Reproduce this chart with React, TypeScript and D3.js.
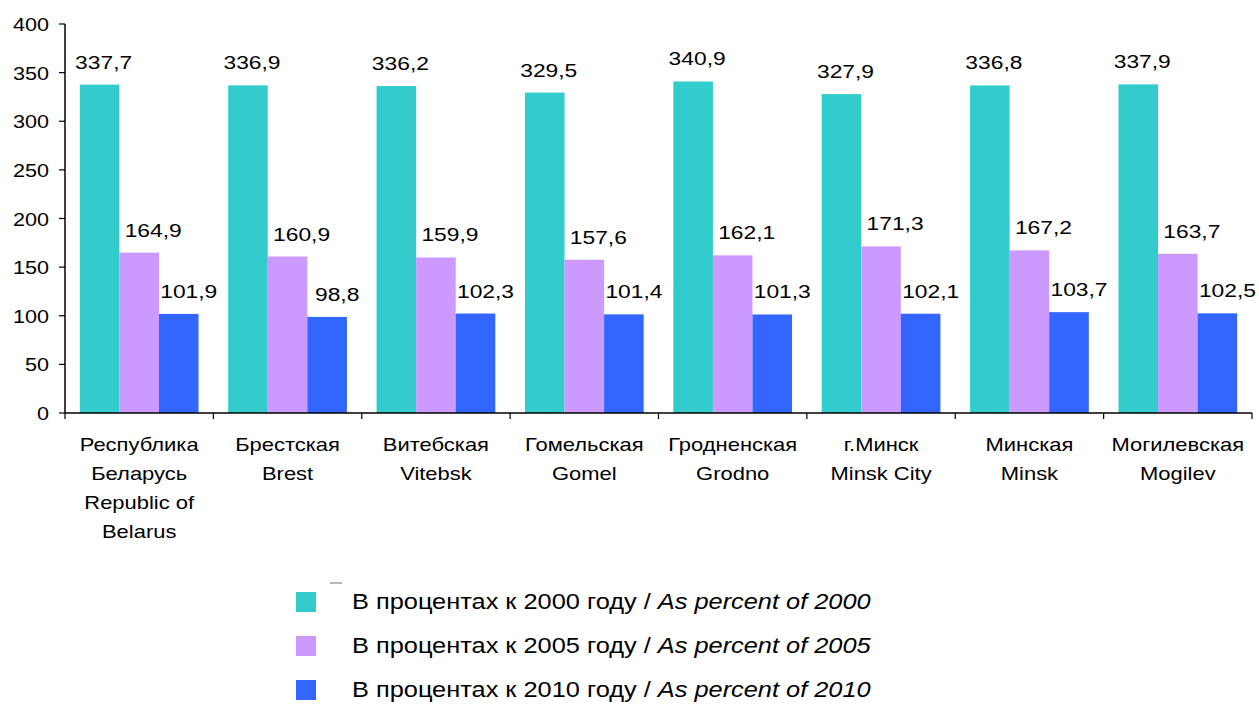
import React from "react";
import * as d3 from "d3";

const categories = [
  ["Республика", "Беларусь", "Republic of", "Belarus"],
  ["Брестская", "Brest"],
  ["Витебская", "Vitebsk"],
  ["Гомельская", "Gomel"],
  ["Гродненская", "Grodno"],
  ["г.Минск", "Minsk City"],
  ["Минская", "Minsk"],
  ["Могилевская", "Mogilev"],
];
const pct2000 = [337.7, 336.9, 336.2, 329.5, 340.9, 327.9, 336.8, 337.9];
const pct2005 = [164.9, 160.9, 159.9, 157.6, 162.1, 171.3, 167.2, 163.7];
const pct2010 = [101.9, 98.8, 102.3, 101.4, 101.3, 102.1, 103.7, 102.5];
const yTicks = [0, 50, 100, 150, 200, 250, 300, 350, 400];
const seriesNames = [
  ["В процентах к 2000 году / ", "As percent of 2000"],
  ["В процентах к 2005 году / ", "As percent of 2005"],
  ["В процентах к 2010 году / ", "As percent of 2010"],
];
const colors = ["#33CCCC", "#CC99FF", "#3366FF"];

function SText({ x, y, sx = 1.2, children, ...rest }: any) {
  return (
    <text transform={`translate(${x},${y}) scale(${sx},1)`} x={0} y={0} {...rest}>
      {children}
    </text>
  );
}

export default function App() {
  const W = 1259, H = 704;
  const left = 65, right = 1252, top = 24, bottom = 413;
  const series = [pct2000, pct2005, pct2010];
  const labelOffset = [4, 14, 10];
  const x = d3.scaleBand<number>().domain(d3.range(categories.length)).range([left, right]).paddingInner(0).paddingOuter(0);
  const x1 = d3.scaleBand<number>().domain([0, 1, 2]).range([x.bandwidth() * 0.1, x.bandwidth() * 0.9]);
  const y = d3.scaleLinear().domain([0, 400]).range([bottom, top]);
  const font = "Liberation Sans, Arial, sans-serif";
  const fmt = (v: number) => v.toFixed(1).replace(".", ",");
  return (
    <svg width={W} height={H} style={{ position: "absolute", left: 0, top: 0, background: "#fff" }} fontFamily={font}>
      {series.map((vals, s) =>
        vals.map((v, i) => {
          const bx = (x(i) as number) + (x1(s) as number);
          return (
            <g key={`b${s}-${i}`}>
              <rect x={bx} y={y(v)} width={x1.bandwidth()} height={bottom - y(v)} fill={colors[s]} />
              <SText x={bx + x1.bandwidth() / 2 + labelOffset[s]} y={y(v) - 16} sx={1.2} fontSize={19} textAnchor="middle" fill="#000">
                {fmt(v)}
              </SText>
            </g>
          );
        })
      )}
      <line x1={left} x2={left} y1={top} y2={bottom} stroke="#000" strokeWidth={1.5} />
      <line x1={left} x2={right} y1={bottom} y2={bottom} stroke="#000" strokeWidth={1.5} />
      {yTicks.map((t) => (
        <g key={`y${t}`}>
          <line x1={left - 6} x2={left} y1={y(t)} y2={y(t)} stroke="#000" strokeWidth={1.2} />
          <SText x={left - 16} y={y(t) + 7} sx={1.2} fontSize={18} textAnchor="end" fill="#000">{t}</SText>
        </g>
      ))}
      {d3.range(categories.length + 1).map((i) => {
        const tx = left + i * x.step();
        return <line key={`xt${i}`} x1={tx} x2={tx} y1={bottom} y2={bottom + 6} stroke="#000" strokeWidth={1.2} />;
      })}
      {categories.map((lines, i) =>
        lines.map((l, j) => (
          <SText key={`c${i}-${j}`} x={(x(i) as number) + x.bandwidth() / 2} y={451 + j * 29} sx={1.22} fontSize={18} textAnchor="middle" fill="#000">
            {l}
          </SText>
        ))
      )}
      <line x1={330} x2={342} y1={583} y2={583} stroke="#bbb" strokeWidth={2} />
      {seriesNames.map((n, s) => (
        <g key={`l${s}`}>
          <rect x={296} y={592 + s * 44} width={20} height={20} fill={colors[s]} />
          <SText x={352} y={609 + s * 44} sx={1.18} fontSize={21.5} fill="#000">
            {n[0]}
            <tspan fontStyle="italic">{n[1]}</tspan>
          </SText>
        </g>
      ))}
    </svg>
  );
}
